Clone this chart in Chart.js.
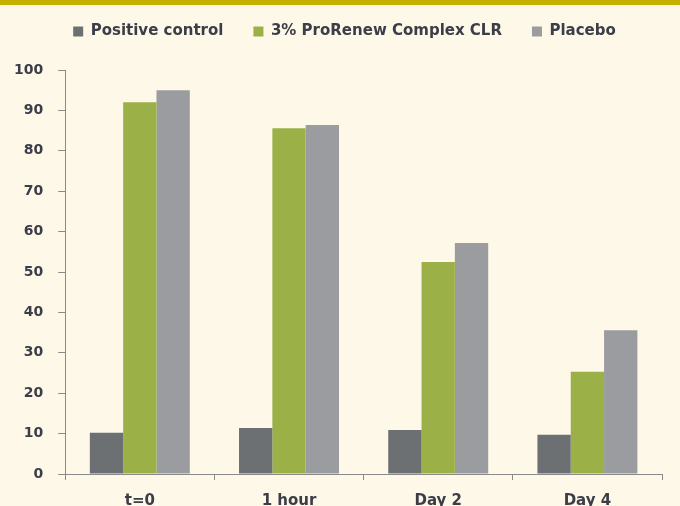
<!DOCTYPE html>
<html>
<head>
<meta charset="utf-8">
<script src="https://cdn.jsdelivr.net/npm/chart.js@4"></script>
<style>
  html, body { margin: 0; padding: 0; background: #fdf8e7; }
  #topbar { height: 5px; background: #c5b000; }
  #wrap { width: 680px; height: 501px; }
</style>
</head>
<body>
<div id="topbar"></div>
<div id="wrap"><canvas id="chart" width="680" height="501"></canvas></div>
<script>
const categories = ['t=0', '1 hour', 'Day 2', 'Day 4'];
const positiveControl = [10.2, 11.4, 10.9, 9.7];
const proRenew = [92.0, 85.6, 52.5, 25.3];
const placebo = [95.0, 86.4, 57.2, 35.6];
const yTicks = [0, 10, 20, 30, 40, 50, 60, 70, 80, 90, 100];

const axisColor = '#8a8a8a';
const textColor = '#3b3d48';

// legend sits higher and a bit right of where chart.js puts it
const legendShift = {
    id: 'legendShift',
    beforeInit(chart) {
        const fit = chart.legend.fit;
        chart.legend.fit = function () {
            fit.call(this);
            this.height += 21;
        };
    },
    afterLayout(chart) {
        chart.legend.left += 14;
        chart.legend.right += 14;
    }
};

const ctx = document.getElementById('chart').getContext('2d');
const chart = new Chart(ctx, {
    type: 'bar',
    data: {
        labels: categories,
        datasets: [
            {
                label: 'Positive control',
                data: positiveControl,
                backgroundColor: '#6d7073'
            },
            {
                label: '3% ProRenew Complex CLR',
                data: proRenew,
                backgroundColor: '#9cb048'
            },
            {
                label: 'Placebo',
                data: placebo,
                backgroundColor: '#9a9c9f'
            }
        ]
    },
    plugins: [legendShift],
    options: {
        responsive: false,
        animation: false,
        layout: {
            padding: { left: -1, right: 18, top: -11, bottom: -16 }
        },
        datasets: {
            bar: {
                categoryPercentage: 0.67,
                barPercentage: 1.0
            }
        },
        scales: {
            x: {
                grid: {
                    drawOnChartArea: false,
                    color: axisColor,
                    tickLength: 6,
                    offset: true
                },
                border: { color: axisColor, width: 1 },
                ticks: {
                    color: textColor,
                    font: { family: 'DejaVu Sans', size: 15, weight: 'bold' },
                    padding: 12
                }
            },
            y: {
                min: 0,
                max: 100,
                afterBuildTicks: (scale) => {
                    scale.ticks = yTicks.map(v => ({ value: v }));
                },
                grid: {
                    drawOnChartArea: false,
                    color: axisColor,
                    tickLength: 7
                },
                border: { color: axisColor, width: 1 },
                ticks: {
                    color: textColor,
                    font: { family: 'DejaVu Sans', size: 14, weight: 'bold' },
                    padding: 15
                }
            }
        },
        plugins: {
            legend: {
                display: true,
                position: 'top',
                labels: {
                    boxWidth: 10,
                    boxHeight: 10,
                    padding: 30,
                    color: textColor,
                    font: { family: 'DejaVu Sans', size: 15, weight: 'bold' }
                }
            },
            tooltip: { enabled: false }
        }
    }
});
</script>
</body>
</html>
